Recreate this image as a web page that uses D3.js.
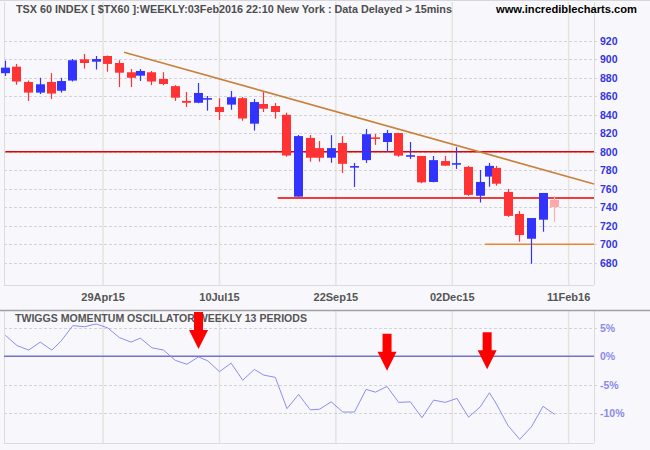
<!DOCTYPE html>
<html><head><meta charset="utf-8">
<script src="https://cdn.jsdelivr.net/npm/d3@7"></script>
<style>html,body{margin:0;padding:0;background:#f8f8fc;} svg{display:block;}</style>
</head><body><svg id="c" width="650" height="450"></svg>
<script>
// ---------- DATA ----------
const weekStarts = ["2015-02-23","2015-03-02","2015-03-09","2015-03-16","2015-03-23","2015-03-30","2015-04-06","2015-04-13","2015-04-20","2015-04-27","2015-05-04","2015-05-11","2015-05-18","2015-05-25","2015-06-01","2015-06-08","2015-06-15","2015-06-22","2015-06-29","2015-07-06","2015-07-13","2015-07-20","2015-07-27","2015-08-03","2015-08-10","2015-08-17","2015-08-24","2015-08-31","2015-09-07","2015-09-14","2015-09-21","2015-09-28","2015-10-05","2015-10-12","2015-10-19","2015-10-26","2015-11-02","2015-11-09","2015-11-16","2015-11-23","2015-11-30","2015-12-07","2015-12-14","2015-12-21","2015-12-28","2016-01-04","2016-01-11","2016-01-18","2016-01-25","2016-02-01"];
const openP  = [885,892,875.5,864,875.5,866,877,900,897.4,903.6,896,886,882.3,886,878.7,871,855,853,857,848.4,851,858,830.4,851.7,849.5,840,751.5,815,804,793.6,809.5,783.5,791,815,810.6,820.3,795.3,795.5,767.4,790,786.7,783.7,752.5,773.2,782.6,756.6,732.8,706,726.6,748];
const highP  = [898.5,895,877,880,885,880,900.3,905.7,903.6,904,899,889.5,889.5,887.4,886,872,864.6,874.4,860.3,858,865.7,859.2,857,864.6,852.8,842.3,818.2,818.2,811.7,818,817,788,824.6,819.2,823.6,820.6,810.6,795.6,795.5,795.5,805,784.8,780.3,788,784.8,759.8,736,728.4,755.5,752.2];
const lowP   = [882,872.5,855,862.5,857,864,876,890,889,886.6,870,870,876.5,872,872,855,848.4,852.5,844.5,834.4,845.5,833.6,823,843,835.8,794.7,751.5,789.3,789.3,788.2,777,762,788,807.4,800,794.7,792.2,766,767,784.8,781.5,752.4,745.2,762.3,763.4,729.6,702.8,679,713.6,724.4];
const closeP = [891,876,864,873,863,876.5,899,896,900.3,895,885.5,880,887.4,876,873.3,858.5,853,863.6,857.4,843,859,836,853.8,846.6,843,796,817,793.6,793.6,804,787,784,819,814.5,820.3,795.8,795.7,767,791,785,787.1,753.4,767.4,784.8,765.5,730.7,710,728.4,755.5,740.3];
const twiggs = [3.7,1.9,1.1,2.5,1.1,2.7,5.4,5.2,5.7,5.0,3.3,2.5,3.2,1.5,1.1,-0.7,-1.4,-0.1,-0.8,-2.7,-1.2,-4.2,-2.3,-3.3,-3.7,-9.2,-6.7,-9.4,-9.3,-8.0,-9.8,-9.8,-5.8,-6.3,-5.3,-8.1,-8.0,-10.8,-7.7,-8.1,-7.4,-10.7,-8.9,-6.4,-8.4,-12.2,-14.6,-12.4,-8.8,-10.2];
const holidays = ["2015-04-03","2015-05-18","2015-07-01","2015-08-03","2015-09-07","2015-10-12","2015-12-25","2015-12-28","2016-01-01"];
const priceTicks = [920,900,880,860,840,820,800,780,760,740,720,700,680];
const oscTicks = [5,0,-5,-10];
const oscTickLabels = ["5%","0%","-5%","-10%"];
const dateTicks = ["2015-04-29","2015-07-10","2015-09-22","2015-12-02","2016-02-11"];
const dateTickLabels = ["29Apr15","10Jul15","22Sep15","02Dec15","11Feb16"];
const levelPrices = [800, 750, 700];
const levelStarts = ["2015-02-27","2015-08-17","2015-12-22"];
const trendStart = ["2015-05-12", 907.7];
const trendEndPrice = 765.3;
const arrowDates = ["2015-06-26","2015-10-23","2015-12-23"];
const arrowValues = [1.28, -2.53, -2.28];
const titleText = "TSX 60 INDEX [ $TX60 ]:WEEKLY:03Feb2016 22:10 New York : Data Delayed > 15mins";
const urlText = "www.incrediblecharts.com";
const oscTitle = "TWIGGS MOMENTUM OSCILLATOR WEEKLY 13 PERIODS";

// ---------- SETUP ----------
const svg = d3.select("#c");
const W = 650, H = 450;
const L = 4, R = 594;
const mainTop = 2, mainBot = 285, oscTop = 311, oscBot = 443;
const parse = d3.utcParse("%Y-%m-%d"), fmt = d3.utcFormat("%Y-%m-%d");
const hol = new Set(holidays);
const isTrading = d => { const w = d.getUTCDay(); return w > 0 && w < 6 && !hol.has(fmt(d)); };
function weekEnd(mon) { let d = d3.utcDay.offset(parse(mon), 4); while (!isTrading(d)) d = d3.utcDay.offset(d, -1); return d; }
const ends = weekStarts.map(weekEnd);
const origin = ends[0], lastEnd = ends[ends.length - 1];
function slot(d) {
  if (typeof d === "string") d = parse(d);
  if (d > lastEnd) return slot(lastEnd) + d3.utcDay.count(lastEnd, d);
  let n = 0;
  for (let t = d3.utcDay.offset(origin, 1); t <= d; t = d3.utcDay.offset(t, 1)) if (isTrading(t)) n++;
  return n;
}
const padL = 0.56, padR = 16.9;
const x = d3.scaleLinear().domain([-padL, slot(lastEnd) + padR]).range([L, R]);
const y = d3.scaleLinear().domain([680, 920]).range([262.8, 40.8]);
const yo = d3.scaleLinear().domain([-10, 5]).range([413.2, 327.9]);

const candles = weekStarts.map((w, i) => ({ s: slot(ends[i]), o: openP[i], h: highP[i], l: lowP[i], c: closeP[i], last: i === weekStarts.length - 1 }));

svg.append("rect").attr("width", W).attr("height", H).attr("fill", "#f8f8fc");
svg.append("line").attr("x1", 0).attr("x2", W).attr("y1", 0.5).attr("y2", 0.5).attr("stroke", "#d6d6dc");

// vertical gridlines
const vx = dateTicks.map(d => x(slot(d)));
[[mainTop, mainBot], [oscTop, oscBot]].forEach(([a, b]) => {
  svg.append("g").selectAll("line").data(vx).join("line")
    .attr("x1", d => d).attr("x2", d => d).attr("y1", a).attr("y2", b)
    .attr("stroke", "#e6e2de").attr("stroke-width", 1.5);
  [L, R].forEach(xx => svg.append("line").attr("x1", xx + 0.5).attr("x2", xx + 0.5).attr("y1", a).attr("y2", b).attr("stroke", "#dcdcdc"));
});
svg.append("line").attr("x1", L).attr("x2", R).attr("y1", mainBot + 0.5).attr("y2", mainBot + 0.5).attr("stroke", "#dcdcdc");
svg.append("line").attr("x1", L).attr("x2", R).attr("y1", oscBot + 0.5).attr("y2", oscBot + 0.5).attr("stroke", "#dcdcdc");
svg.append("line").attr("x1", 0).attr("x2", W).attr("y1", 310.5).attr("y2", 310.5).attr("stroke", "#a0a0a4").attr("stroke-width", 1.5);

// horizontal dashed gridlines
svg.append("g").selectAll("line").data(priceTicks).join("line")
  .attr("x1", L).attr("x2", R + 4).attr("y1", d => Math.round(y(d)) + 0.5).attr("y2", d => Math.round(y(d)) + 0.5)
  .attr("stroke", "#d4d4d8").attr("stroke-dasharray", "3,2");
svg.append("g").selectAll("line").data(oscTicks.filter(v => v !== 0)).join("line")
  .attr("x1", L).attr("x2", R + 4).attr("y1", d => Math.round(yo(d)) + 0.5).attr("y2", d => Math.round(yo(d)) + 0.5)
  .attr("stroke", "#d4d4d8").attr("stroke-dasharray", "3,2");

// y labels
svg.append("g").selectAll("text").data(priceTicks).join("text")
  .attr("x", 600).attr("y", d => y(d)).attr("dy", "0.36em")
  .attr("font-family", "'Liberation Sans', Arial, sans-serif").attr("font-weight", "bold").attr("font-size", 10.5)
  .attr("fill", "#3434e0").text(d => d);
svg.append("g").selectAll("text").data(oscTicks).join("text")
  .attr("x", 600).attr("y", d => yo(d)).attr("dy", "0.36em")
  .attr("font-family", "'Liberation Sans', Arial, sans-serif").attr("font-weight", "bold").attr("font-size", 10.5)
  .attr("fill", "#8a8aec").text((d, i) => oscTickLabels[i]);
// x labels
svg.append("g").selectAll("text").data(dateTicks).join("text")
  .attr("x", d => x(slot(d))).attr("y", 301).attr("text-anchor", "middle")
  .attr("font-family", "'Liberation Sans', Arial, sans-serif").attr("font-weight", "bold").attr("font-size", 11)
  .attr("fill", "#555").text((d, i) => dateTickLabels[i]);

// titles
svg.append("text").attr("x", 16).attr("y", 13).attr("font-family", "'Liberation Sans Narrow','Liberation Sans', Arial, sans-serif")
  .attr("font-weight", "bold").attr("font-size", 10.5).attr("fill", "#4d4d4d")
  .attr("textLength", 436).attr("lengthAdjust", "spacingAndGlyphs").text(titleText);
svg.append("text").attr("x", 496).attr("y", 13).attr("font-family", "'Liberation Sans', Arial, sans-serif")
  .attr("font-weight", "bold").attr("font-size", 11).attr("fill", "#000")
  .attr("textLength", 141).attr("lengthAdjust", "spacingAndGlyphs").text(urlText);
svg.append("text").attr("x", 15).attr("y", 322).attr("font-family", "'Liberation Sans', Arial, sans-serif")
  .attr("font-weight", "bold").attr("font-size", 10.5).attr("fill", "#555")
  .attr("textLength", 292).attr("lengthAdjust", "spacingAndGlyphs").text(oscTitle);

// level lines
const levelColors = ["#e80000", "#e80000", "#ec8430"];
levelPrices.forEach((p, i) => {
  svg.append("line").attr("x1", x(slot(levelStarts[i]))).attr("x2", R)
    .attr("y1", y(p)).attr("y2", y(p)).attr("stroke", levelColors[i]).attr("stroke-width", 1.6);
});
// trend line
svg.append("line").attr("x1", x(slot(trendStart[0]))).attr("y1", y(trendStart[1]))
  .attr("x2", R).attr("y2", y(trendEndPrice)).attr("stroke", "#c9813a").attr("stroke-width", 1.6);

// candles
const cg = svg.append("g");
candles.forEach(d => {
  const up = d.c >= d.o;
  let col = up ? "#3333ff" : "#ff3333";
  if (d.last) col = up ? "#aaaaff" : "#ffaaaa";
  const left = Math.round(x(d.s) - 4.5);
  const cx = left + 4.5;
  cg.append("line").attr("x1", cx).attr("x2", cx).attr("y1", y(d.h)).attr("y2", y(d.l)).attr("stroke", col).attr("stroke-width", 1.2);
  const top = y(Math.max(d.o, d.c)), bot = y(Math.min(d.o, d.c));
  const h = Math.max(bot - top, 1.6);
  cg.append("rect").attr("x", left).attr("width", 9).attr("y", (top + bot) / 2 - h / 2).attr("height", h).attr("fill", col);
});

// oscillator
svg.append("line").attr("x1", L).attr("x2", R).attr("y1", yo(0)).attr("y2", yo(0)).attr("stroke", "#7272cc").attr("stroke-width", 1.5);
svg.append("path").datum(twiggs).attr("fill", "none").attr("stroke", "#8c8cf4").attr("stroke-width", 1)
  .attr("d", d3.line().x((v, i) => x(candles[i].s)).y(v => yo(v)));

// arrows
arrowDates.forEach((d, i) => {
  const ax = x(slot(d)), tip = yo(arrowValues[i]);
  const head = 19, shaft = 18;
  const pts = [[ax - 4.5, tip - head - shaft], [ax + 4.5, tip - head - shaft], [ax + 4.5, tip - head], [ax + 9.5, tip - head],
    [ax, tip], [ax - 9.5, tip - head], [ax - 4.5, tip - head]];
  svg.append("polygon").attr("points", pts.map(p => p.join(",")).join(" ")).attr("fill", "#ff0000");
});
</script></body></html>
